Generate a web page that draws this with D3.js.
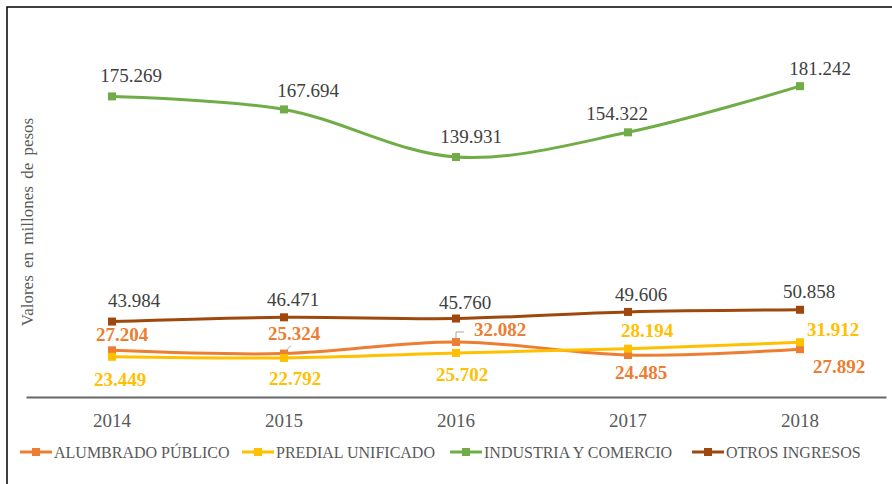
<!DOCTYPE html>
<html>
<head>
<meta charset="utf-8">
<script src="https://cdn.jsdelivr.net/npm/d3@7"></script>
<style>
  body { margin: 0; background: #fff; }
</style>
</head>
<body>
<div id="canvas"></div>
<script>
// datos (millones de pesos)
const years = ["2014", "2015", "2016", "2017", "2018"];
const alumbrado = [27.204, 25.324, 32.082, 24.485, 27.892];
const predial = [23.449, 22.792, 25.702, 28.194, 31.912];
const industria = [175.269, 167.694, 139.931, 154.322, 181.242];
const otros = [43.984, 46.471, 45.760, 49.606, 50.858];
const seriesNames = ["ALUMBRADO PÚBLICO", "PREDIAL UNIFICADO", "INDUSTRIA Y COMERCIO", "OTROS INGRESOS"];

// ubicación de las etiquetas respecto al punto [dx, dy]
const labelPos = [
  [[10, -9], [10, -14], [44, -6], [13, 24], [39, 24]],
  [[8, 29], [11, 27], [6, 28], [19, -12], [33, -6]],
  [[19, -14], [24, -12], [15, -14], [-11, -12], [20, -11]],
  [[22, -15], [9, -11], [9, -10], [13, -11], [9, -12]]
];

const colors = ["#ED7D31", "#FFC000", "#70AD47", "#9E480E"];
const labelColors = ["#ED7D31", "#FFC000", "#404040", "#404040"];
const labelBold = [true, true, false, false];

const serif = "'Liberation Serif', 'Times New Roman', serif";
const width = 892, height = 484;

const svg = d3.select("#canvas").append("svg")
  .attr("width", width)
  .attr("height", height)
  .style("font-family", serif);

// borde
svg.append("rect")
  .attr("x", 7).attr("y", 7)
  .attr("width", 900).attr("height", 500)
  .attr("fill", "none")
  .attr("stroke", "#000")
  .attr("stroke-width", 1.5);

const x = d3.scaleBand().domain(years).range([26, 886]);
const cx = d => x(d) + x.bandwidth() / 2;
const y = d3.scaleLinear().domain([0, 200]).range([397, 54]);

// eje x
const xAxis = svg.append("g")
  .attr("transform", "translate(0,397)")
  .call(d3.axisBottom(x).tickSize(0).tickSizeOuter(0).tickPadding(17));
xAxis.attr("font-family", null);
xAxis.select(".domain").attr("stroke", "#666").attr("stroke-width", 2);
xAxis.selectAll("text")
  .attr("fill", "#595959")
  .style("font-family", serif)
  .style("font-size", "19px");

// título eje y
svg.append("text")
  .attr("transform", "translate(33,222) rotate(-90)")
  .attr("text-anchor", "middle")
  .attr("fill", "#595959")
  .style("font-family", serif)
  .style("font-size", "17px")
  .style("word-spacing", "3px")
  .text("Valores en millones de pesos");

const allSeries = [alumbrado, predial, industria, otros];
const line = d3.line()
  .x((d, i) => cx(years[i]))
  .y(d => y(d))
  .curve(d3.curveCatmullRom.alpha(0.5));

allSeries.forEach((vals, s) => {
  const g = svg.append("g");
  g.append("path")
    .datum(vals)
    .attr("d", line)
    .attr("fill", "none")
    .attr("stroke", colors[s])
    .attr("stroke-width", 3)
    .attr("stroke-linecap", "round");
  g.selectAll("rect")
    .data(vals)
    .enter().append("rect")
    .attr("x", (d, i) => cx(years[i]) - 4)
    .attr("y", d => y(d) - 4)
    .attr("width", 8)
    .attr("height", 8)
    .attr("fill", colors[s]);
});

// líneas guía de etiquetas (alumbrado 2015 y 2016)
const p15 = [cx("2015"), y(alumbrado[1])];
svg.append("line")
  .attr("x1", p15[0] + 1).attr("y1", p15[1] - 2)
  .attr("x2", p15[0] + 7).attr("y2", p15[1] - 8)
  .attr("stroke", "#a6a6a6").attr("stroke-width", 1);
const p16 = [cx("2016"), y(alumbrado[2])];
svg.append("path")
  .attr("d", `M${p16[0]},${p16[1] - 3}V${p16[1] - 10}H${p16[0] + 8}`)
  .attr("fill", "none")
  .attr("stroke", "#a6a6a6").attr("stroke-width", 1);

// etiquetas de datos
allSeries.forEach((vals, s) => {
  svg.append("g").selectAll("text")
    .data(vals)
    .enter().append("text")
    .attr("x", (d, i) => cx(years[i]) + labelPos[s][i][0])
    .attr("y", (d, i) => y(d) + labelPos[s][i][1])
    .attr("text-anchor", "middle")
    .attr("fill", labelColors[s])
    .style("font-family", serif)
    .style("font-size", "19px")
    .style("font-weight", labelBold[s] ? "bold" : "normal")
    .text(d => d.toFixed(3));
});

// leyenda
const legendX = [20, 242, 450, 692];
const legend = svg.append("g").attr("transform", "translate(0,452)");
seriesNames.forEach((name, s) => {
  const lg = legend.append("g").attr("transform", `translate(${legendX[s]},0)`);
  lg.append("line")
    .attr("x1", 0).attr("x2", 32)
    .attr("stroke", colors[s]).attr("stroke-width", 3);
  lg.append("rect")
    .attr("x", 12).attr("y", -4).attr("width", 8).attr("height", 8)
    .attr("fill", colors[s]);
  lg.append("text")
    .attr("x", 34).attr("y", 5.5)
    .attr("fill", "#595959")
    .style("font-family", serif)
    .style("font-size", "16px")
    .text(name);
});
</script>
</body>
</html>
